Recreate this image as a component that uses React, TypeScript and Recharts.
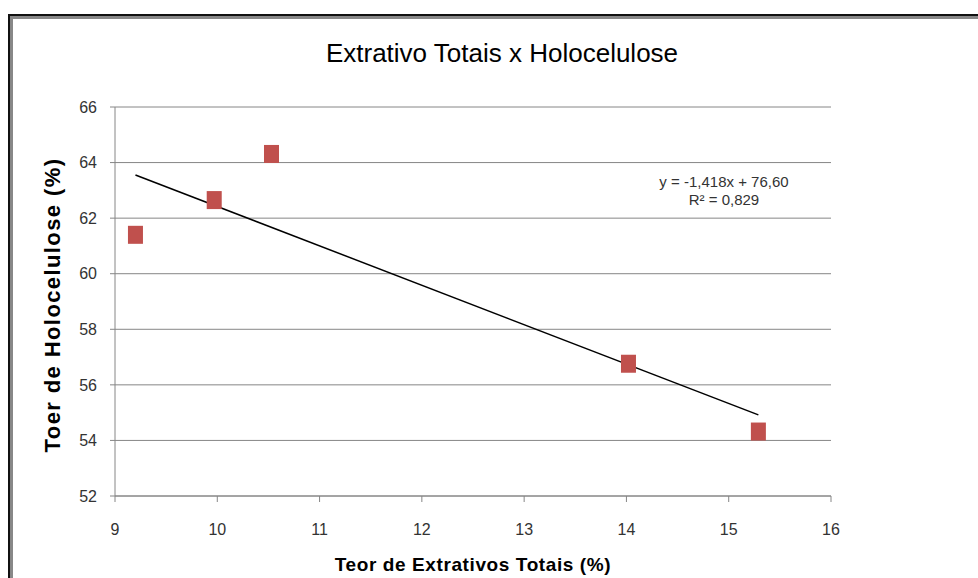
import { ScatterChart, Scatter, XAxis, YAxis, CartesianGrid } from "recharts";

// Teor de Extrativos Totais (%) vs Teor de Holocelulose (%)
const extrativos = [9.2, 9.97, 10.53, 14.02, 15.29];
const holocelulose = [61.4, 62.65, 64.31, 56.76, 54.32];

// linear trendline as printed on the chart
const trendSlope = -1.418;
const trendIntercept = 76.6;

const xTicks = [9, 10, 11, 12, 13, 14, 15, 16];
const yTicks = [52, 54, 56, 58, 60, 62, 64, 66];

const points = extrativos.map((x, i) => ({ x, y: holocelulose[i] }));
const xMin = Math.min(...extrativos);
const xMax = Math.max(...extrativos);
const trend = [xMin, xMax].map((x) => ({ x, y: trendSlope * x + trendIntercept }));

const FONT = "'Liberation Sans', Arial, sans-serif";
const GRID = "#868686";

function Square(props: any) {
  const { cx, cy } = props;
  if (cx == null || cy == null) return null;
  return <rect x={cx - 7.5} y={cy - 9} width={15} height={18} fill="#C0504D" />;
}

export default function App() {
  return (
    <div
      style={{
        position: "fixed",
        left: 0,
        top: 0,
        width: 978,
        height: 578,
        overflow: "hidden",
        background: "#fff",
        fontFamily: FONT,
      }}
    >
      {/* chart frame: dark edge with grey inner shadow, top and left only */}
      <div
        style={{
          position: "absolute",
          left: 8,
          top: 14,
          width: 1100,
          height: 700,
          borderTop: "2px solid #111",
          borderLeft: "2px solid #111",
        }}
      >
        <div
          style={{
            width: "100%",
            height: "100%",
            borderTop: "3px solid #888",
            borderLeft: "3px solid #888",
          }}
        />
      </div>

      <div style={{ position: "absolute", left: 0, top: 0 }}>
        <ScatterChart
          width={978}
          height={578}
          margin={{ top: 107, right: 147, left: 55, bottom: 22 }}
        >
          <CartesianGrid vertical={false} stroke={GRID} strokeWidth={1} />
          <XAxis
            type="number"
            dataKey="x"
            domain={[9, 16]}
            ticks={xTicks}
            allowDataOverflow
            height={60}
            axisLine={{ stroke: GRID }}
            tickLine={{ stroke: GRID }}
            tickSize={6}
            tickMargin={22}
            tick={{ fontSize: 16, fill: "#333", fontFamily: FONT }}
          />
          <YAxis
            type="number"
            dataKey="y"
            domain={[52, 66]}
            ticks={yTicks}
            allowDataOverflow
            width={60}
            axisLine={{ stroke: GRID }}
            tickLine={{ stroke: GRID }}
            tickSize={5}
            tickMargin={13}
            tick={{ fontSize: 16, fill: "#333", fontFamily: FONT }}
          />
          <Scatter
            data={trend}
            line={{ stroke: "#000", strokeWidth: 1.5 }}
            shape={() => null}
            isAnimationActive={false}
          />
          <Scatter data={points} shape={Square} isAnimationActive={false} />
        </ScatterChart>
      </div>

      <div
        style={{
          position: "absolute",
          left: 502,
          top: 40,
          transform: "translateX(-50%)",
          whiteSpace: "nowrap",
          fontSize: 26,
          lineHeight: "26px",
          color: "#000",
        }}
      >
        Extrativo Totais x Holocelulose
      </div>

      <div
        style={{
          position: "absolute",
          left: 53,
          top: 305,
          transform: "translate(-50%, -50%) rotate(-90deg)",
          whiteSpace: "nowrap",
          fontSize: 22,
          fontWeight: "bold",
          letterSpacing: 1.4,
          lineHeight: "22px",
          color: "#000",
        }}
      >
        Toer de Holocelulose (%)
      </div>

      <div
        style={{
          position: "absolute",
          left: 473,
          top: 565,
          transform: "translate(-50%, -50%)",
          whiteSpace: "nowrap",
          fontSize: 19,
          fontWeight: "bold",
          letterSpacing: 0.6,
          lineHeight: "20px",
          color: "#000",
        }}
      >
        Teor de Extrativos Totais (%)
      </div>

      <div
        style={{
          position: "absolute",
          left: 724,
          top: 191,
          transform: "translate(-50%, -50%)",
          whiteSpace: "nowrap",
          fontSize: 15,
          lineHeight: "18px",
          color: "#333",
          textAlign: "center",
        }}
      >
        y = -1,418x + 76,60
        <br />
        R² = 0,829
      </div>
    </div>
  );
}
